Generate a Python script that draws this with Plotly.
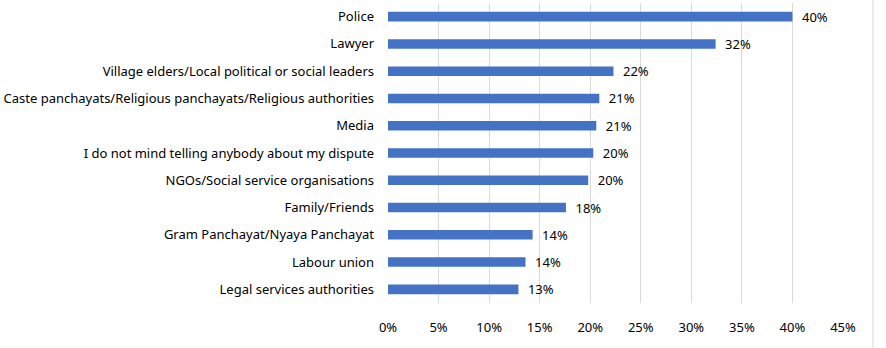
import plotly.graph_objects as go

# Survey responses: whom respondents would approach about a dispute
categories = [
    "Police",
    "Lawyer",
    "Village elders/Local political or social leaders",
    "Caste panchayats/Religious panchayats/Religious authorities",
    "Media",
    "I do not mind telling anybody about my dispute",
    "NGOs/Social service organisations",
    "Family/Friends",
    "Gram Panchayat/Nyaya Panchayat",
    "Labour union",
    "Legal services authorities",
]
shares = [40.0, 32.4, 22.3, 20.9, 20.6, 20.3, 19.8, 17.6, 14.3, 13.6, 12.9]
tick_values = [0, 5, 10, 15, 20, 25, 30, 35, 40, 45]
tick_labels = [f"{v}%" for v in tick_values]

FONT = "Noto Sans"

fig = go.Figure(
    go.Bar(
        x=shares,
        y=categories,
        orientation="h",
        marker=dict(color="#4472C4", line=dict(width=0)),
        texttemplate="\u2002%{x:.0f}%",
        textposition="outside",
        constraintext="none",
        textfont=dict(family=FONT, size=13, color="#000000"),
        cliponaxis=False,
        width=0.35,
    )
)

fig.update_layout(
    width=886,
    height=348,
    margin=dict(l=388, r=43, t=3, b=45),
    paper_bgcolor="white",
    plot_bgcolor="white",
    showlegend=False,
    font=dict(family=FONT, size=13, color="#000000"),
    xaxis=dict(
        range=[0, 45],
        tickvals=tick_values,
        ticktext=tick_labels,
        showgrid=True,
        gridcolor="#D9D9D9",
        gridwidth=1,
        zeroline=False,
        showline=False,
        ticks="",
        ticklabelstandoff=15,
        tickfont=dict(family=FONT, size=13, color="#000000"),
        fixedrange=True,
    ),
    yaxis=dict(
        autorange="reversed",
        showgrid=False,
        zeroline=False,
        showline=False,
        ticks="",
        ticklabelstandoff=13,
        tickfont=dict(family=FONT, size=13, color="#000000"),
        fixedrange=True,
    ),
    shapes=[
        dict(
            type="line",
            xref="paper",
            yref="paper",
            x0=(873 - 388) / 455,
            x1=(873 - 388) / 455,
            y0=-45 / 300,
            y1=1 + 3 / 300,
            line=dict(color="#D9D9D9", width=1),
        )
    ],
)

fig.write_html("out.html")
